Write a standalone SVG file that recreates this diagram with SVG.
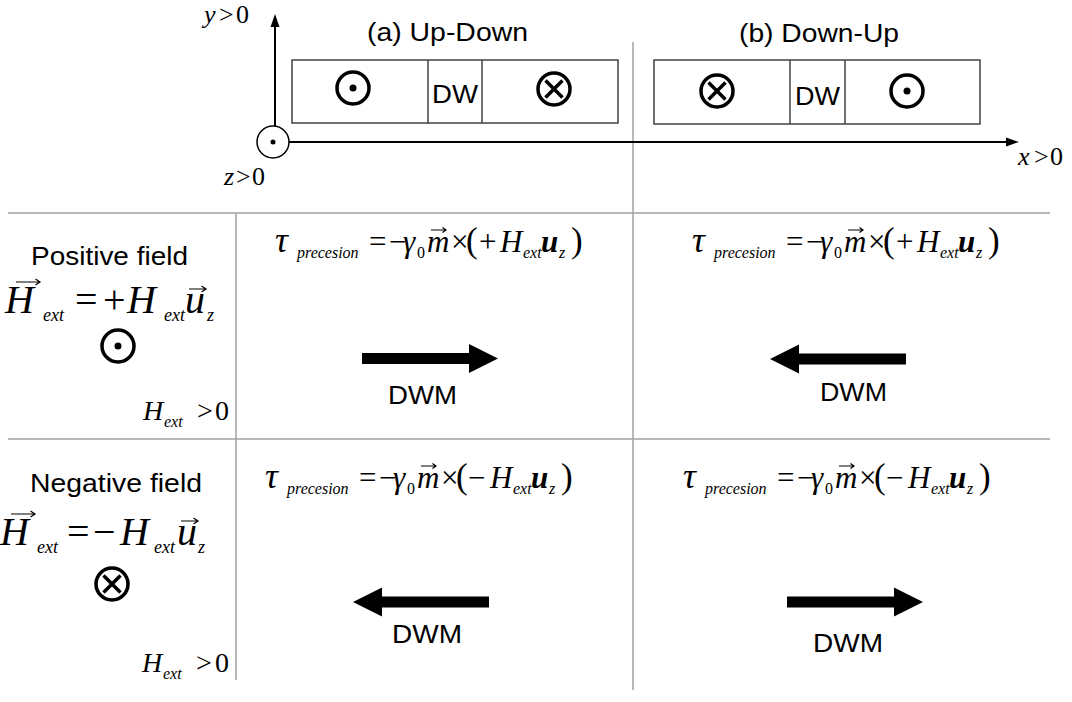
<svg xmlns="http://www.w3.org/2000/svg" xmlns:xlink="http://www.w3.org/1999/xlink" width="1072" height="702" viewBox="0 0 1072 702">
  <style>
    .sans { font-family: "Liberation Sans", Arial, sans-serif; font-size: 26px; fill: #000; }
    .serif { font-family: "Liberation Serif", "Times New Roman", serif; fill: #000; }
    .it { font-style: italic; }
    .bi { font-style: italic; font-weight: bold; }
    .grid { stroke: #a0a0a0; stroke-width: 1.5; fill: none; }
    .box { stroke: #404040; stroke-width: 1.5; fill: #fff; }
    .axis { stroke: #000; stroke-width: 2; fill: none; }
    .sym { stroke: #000; stroke-width: 3.5; fill: none; }
    .vec { stroke: #000; stroke-width: 1.2; fill: none; }
  </style>
  <defs>
    <!-- thick block arrow, tail at origin, pointing right -->
    <path id="bigArrow" d="M0,-5.5 H107 V-14.5 L136,0 L107,14.5 V5.5 H0 Z" fill="#000"/>
    <!-- out-of-plane symbol -->
    <g id="dotSym">
      <circle r="16" class="sym"/>
      <circle r="3.5" fill="#000"/>
    </g>
    <!-- into-plane symbol -->
    <g id="crossSym">
      <circle r="16" class="sym"/>
      <path d="M-8.5,-8.5 L8.5,8.5 M8.5,-8.5 L-8.5,8.5" class="sym" stroke-width="3.2"/>
    </g>
    <!-- precession torque expression, origin at start of baseline -->
    <g id="torqueHead" class="serif">
      <text y="0" font-size="31">
        <tspan x="0" class="it" font-size="36">τ</tspan>
        <tspan x="22" y="6" font-size="16" class="it">precesion</tspan>
        <tspan x="94" y="0">=</tspan>
        <tspan x="114">−</tspan>
        <tspan x="128" class="it">γ</tspan>
        <tspan x="142" y="6" font-size="16">0</tspan>
        <tspan x="152" y="0" class="it">m</tspan>
        <tspan x="176">×</tspan>
        <tspan x="191" font-size="35">(</tspan>
      </text>
      <path d="M156,-22 H171 M167.5,-24.5 L171,-22 L167.5,-19.5" class="vec"/>
    </g>
    <g id="torqueTail" class="serif">
      <text y="0" font-size="31">
        <tspan x="225" class="it">H</tspan>
        <tspan x="248" y="6" font-size="16" class="it">ext</tspan>
        <tspan x="266" y="0" class="bi">u</tspan>
        <tspan x="284" y="6" font-size="16" class="it">z</tspan>
        <tspan x="296" y="0" font-size="35">)</tspan>
      </text>
    </g>
  </defs>

  <rect width="1072" height="702" fill="#fff"/>

  <!-- table rules -->
  <g id="grid">
    <line x1="8" y1="213" x2="1050" y2="213" class="grid"/>
    <line x1="8" y1="439" x2="1050" y2="439" class="grid"/>
    <line x1="236" y1="213" x2="236" y2="680" class="grid"/>
    <line x1="633" y1="42" x2="633" y2="690" class="grid"/>
  </g>

  <!-- coordinate axes -->
  <g id="axes">
    <line x1="275" y1="126" x2="275" y2="26" class="axis"/>
    <path d="M275,14 L270.5,27 L279.5,27 Z" fill="#000"/>
    <line x1="289" y1="142" x2="1006" y2="142" class="axis"/>
    <path d="M1019,142 L1006,137.5 L1006,146.5 Z" fill="#000"/>
    <circle cx="273" cy="142" r="16" fill="#fff" stroke="#000" stroke-width="1.5"/>
    <circle cx="273" cy="142" r="2.5" fill="#000"/>
    <text class="serif" font-size="26" y="23"><tspan x="204" class="it">y</tspan><tspan x="219">&gt;</tspan><tspan x="236">0</tspan></text>
    <text class="serif" font-size="26" y="185"><tspan x="224" class="it">z</tspan><tspan x="236">&gt;</tspan><tspan x="252">0</tspan></text>
    <text class="serif" font-size="26" y="165"><tspan x="1018" class="it">x</tspan><tspan x="1034">&gt;</tspan><tspan x="1050">0</tspan></text>
  </g>

  <!-- (a) up-down wall -->
  <g id="wall-a">
    <text class="sans" x="367" y="41" textLength="161" lengthAdjust="spacingAndGlyphs">(a) Up-Down</text>
    <rect x="292" y="60" width="326" height="63" class="box"/>
    <line x1="428" y1="60" x2="428" y2="123" class="box"/>
    <line x1="482" y1="60" x2="482" y2="123" class="box"/>
    <text class="sans" x="432" y="103" textLength="46" lengthAdjust="spacingAndGlyphs">DW</text>
    <use xlink:href="#dotSym" x="353" y="88"/>
    <use xlink:href="#crossSym" x="554" y="89"/>
  </g>

  <!-- (b) down-up wall -->
  <g id="wall-b">
    <text class="sans" x="739" y="42" textLength="160" lengthAdjust="spacingAndGlyphs">(b) Down-Up</text>
    <rect x="654" y="60" width="326" height="64" class="box"/>
    <line x1="790" y1="60" x2="790" y2="124" class="box"/>
    <line x1="845" y1="60" x2="845" y2="124" class="box"/>
    <text class="sans" x="795" y="105" textLength="45" lengthAdjust="spacingAndGlyphs">DW</text>
    <use xlink:href="#crossSym" x="717" y="91"/>
    <use xlink:href="#dotSym" x="907" y="91"/>
  </g>

  <!-- positive field row label -->
  <g id="row-positive">
    <text class="sans" x="31" y="265" textLength="157" lengthAdjust="spacingAndGlyphs">Positive field</text>
    <text class="serif" font-size="40" y="313">
      <tspan x="5" class="it">H</tspan>
      <tspan x="43" y="321" font-size="18" class="it">ext</tspan>
      <tspan x="75" y="313">=</tspan>
      <tspan x="103">+</tspan>
      <tspan x="127" class="it">H</tspan>
      <tspan x="164" y="321" font-size="18" class="it">ext</tspan>
      <tspan x="185" y="313" class="it">u</tspan>
      <tspan x="207" y="321" font-size="18" class="it">z</tspan>
    </text>
    <path d="M16,-31 H40 M35.5,-34 L40,-31 L35.5,-28" class="vec" transform="translate(0,313)"/>
    <path d="M189,-24 H206 M201.5,-27 L206,-24 L201.5,-21" class="vec" transform="translate(0,313)"/>
    <use xlink:href="#dotSym" x="118" y="346"/>
    <text class="serif" font-size="28" y="420">
      <tspan x="143" class="it">H</tspan>
      <tspan x="164" y="427" font-size="16" class="it">ext</tspan>
      <tspan x="197" y="420">&gt;</tspan>
      <tspan x="215">0</tspan>
    </text>
  </g>

  <!-- negative field row label -->
  <g id="row-negative">
    <text class="sans" x="30" y="492" textLength="172" lengthAdjust="spacingAndGlyphs">Negative field</text>
    <text class="serif" font-size="40" y="545">
      <tspan x="0" class="it">H</tspan>
      <tspan x="37" y="553" font-size="18" class="it">ext</tspan>
      <tspan x="67" y="545">=</tspan>
      <tspan x="93">−</tspan>
      <tspan x="120" class="it">H</tspan>
      <tspan x="154" y="553" font-size="18" class="it">ext</tspan>
      <tspan x="177" y="545" class="it">u</tspan>
      <tspan x="198" y="553" font-size="18" class="it">z</tspan>
    </text>
    <path d="M11,-31 H35 M30.5,-34 L35,-31 L30.5,-28" class="vec" transform="translate(0,545)"/>
    <path d="M181,-24 H198 M193.5,-27 L198,-24 L193.5,-21" class="vec" transform="translate(0,545)"/>
    <use xlink:href="#crossSym" x="112" y="584"/>
    <text class="serif" font-size="28" y="672">
      <tspan x="142" class="it">H</tspan>
      <tspan x="163" y="679" font-size="16" class="it">ext</tspan>
      <tspan x="196" y="672">&gt;</tspan>
      <tspan x="215">0</tspan>
    </text>
  </g>

  <!-- torque expressions -->
  <g id="torque-a-pos" transform="translate(275,252)">
    <use xlink:href="#torqueHead"/>
    <text class="serif" font-size="31" x="204">+</text>
    <use xlink:href="#torqueTail"/>
  </g>
  <g id="torque-b-pos" transform="translate(692,252)">
    <use xlink:href="#torqueHead"/>
    <text class="serif" font-size="31" x="204">+</text>
    <use xlink:href="#torqueTail"/>
  </g>
  <g id="torque-a-neg" transform="translate(265,488)">
    <use xlink:href="#torqueHead"/>
    <text class="serif" font-size="31" x="203">−</text>
    <use xlink:href="#torqueTail"/>
  </g>
  <g id="torque-b-neg" transform="translate(683,488)">
    <use xlink:href="#torqueHead"/>
    <text class="serif" font-size="31" x="203">−</text>
    <use xlink:href="#torqueTail"/>
  </g>

  <!-- wall motion arrows -->
  <g id="connectors">
    <use xlink:href="#bigArrow" transform="translate(362,358.5)"/>
    <use xlink:href="#bigArrow" transform="translate(906,359) scale(-1,1)"/>
    <use xlink:href="#bigArrow" transform="translate(489,602) scale(-1,1)"/>
    <use xlink:href="#bigArrow" transform="translate(787,602)"/>
  </g>
  <g id="dwm-labels">
    <text class="sans" x="388" y="404" textLength="69" lengthAdjust="spacingAndGlyphs">DWM</text>
    <text class="sans" x="820" y="401" textLength="67" lengthAdjust="spacingAndGlyphs">DWM</text>
    <text class="sans" x="392" y="643" textLength="70" lengthAdjust="spacingAndGlyphs">DWM</text>
    <text class="sans" x="813" y="652" textLength="70" lengthAdjust="spacingAndGlyphs">DWM</text>
  </g>
</svg>
